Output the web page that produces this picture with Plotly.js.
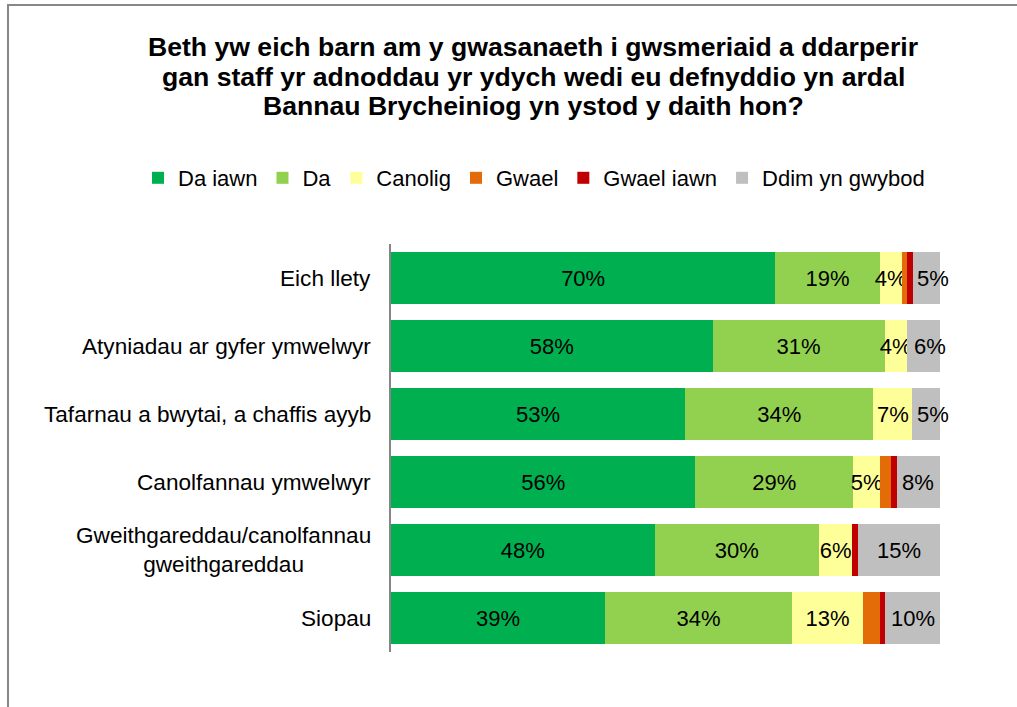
<!DOCTYPE html>
<html>
<head>
<meta charset="utf-8">
<script src="https://cdn.plot.ly/plotly-3.0.1.min.js"></script>
<style>
html,body{margin:0;padding:0;background:#fff;}
#wrap{position:relative;width:1017px;height:707px;overflow:hidden;}
#chart{width:1017px;height:707px;}
#frame{position:absolute;left:7px;top:4px;width:1030px;height:730px;border:2px solid #878787;pointer-events:none;box-sizing:border-box;}
</style>
</head>
<body>
<div id="wrap"><div id="chart"></div><div id="frame"></div></div>
<script>
const categories = [
  "Eich llety",
  "Atyniadau ar gyfer ymwelwyr",
  "Tafarnau a bwytai, a chaffis ayyb",
  "Canolfannau ymwelwyr",
  "Gweithgareddau/canolfannau<br>gweithgareddau",
  "Siopau"
];
const seriesNames = ["Da iawn", "Da", "Canolig", "Gwael", "Gwael iawn", "Ddim yn gwybod"];
const daIawn     = [70, 58, 53, 56, 48, 39];
const da         = [19, 31, 34, 29, 30, 34];
const canolig    = [4, 4, 7, 5, 6, 13];
const gwael      = [1, 0, 0, 2, 0, 3];
const gwaelIawn  = [1, 0, 0, 1, 1, 1];
const ddim       = [5, 6, 5, 8, 15, 10];
const titleLines = [
  "Beth yw eich barn am y gwasanaeth i gwsmeriaid a ddarperir",
  "gan staff yr adnoddau yr ydych wedi eu defnyddio yn ardal",
  "Bannau Brycheiniog yn ystod y daith hon?"
];

const colors = ["#00B050", "#92D050", "#FFFF99", "#E36C09", "#C00000", "#BFBFBF"];
const allSeries = [daIawn, da, canolig, gwael, gwaelIawn, ddim];
const FONT = "Liberation Sans, Arial, sans-serif";
const LAST = allSeries.length - 1;

const traces = allSeries.map((vals, i) => ({
  type: "bar",
  orientation: "h",
  name: seriesNames[i],
  y: categories,
  x: vals,
  marker: {color: colors[i], line: {width: 0}},
  text: vals.map(v => (i !== LAST && v >= 4) ? v + "%" : ""),
  textposition: "inside",
  insidetextanchor: "middle",
  textangle: 0,
  constraintext: "none",
  cliponaxis: false,
  textfont: {family: FONT, size: 22, color: "#000"},
  hoverinfo: "x+name"
}));

const W = 1017, H = 707;
const L = 391, R = 940, T = 244, B = 652;
const px2paperX = p => (p - L) / (R - L);
const px2paperY = p => 1 + (T - p) / (B - T);

const annotations = [];
const titleY = [47, 77, 106];
titleLines.forEach((t, i) => {
  annotations.push({
    text: "<b>" + t + "</b>", xref: "paper", yref: "paper",
    x: px2paperX(533), y: px2paperY(titleY[i]),
    xanchor: "center", yanchor: "middle", showarrow: false,
    font: {family: FONT, size: 26.6, color: "#000"}
  });
});
categories.forEach(c => {
  annotations.push({
    text: c, xref: "paper", yref: "y", x: 0, y: c,
    xanchor: "right", yanchor: "middle", xshift: -18, align: "center",
    showarrow: false,
    font: {family: FONT, size: 22.6, color: "#000"}
  });
});
// labels of the last segment, placed at the segment centre (normalised to 100%),
// nudged right when the segment is narrow so they clear the neighbouring label
categories.forEach((c, r) => {
  const total = allSeries.reduce((s, arr) => s + arr[r], 0);
  const start = allSeries.slice(0, LAST).reduce((s, arr) => s + arr[r], 0);
  const v = ddim[r];
  annotations.push({
    text: v + "%", xref: "x", yref: "y",
    x: (start + v / 2) / total * 100, y: c,
    xanchor: "center", yanchor: "middle", showarrow: false,
    xshift: v <= 6 ? 7 : 0,
    font: {family: FONT, size: 22, color: "#000"}
  });
});

const layout = {
  width: W, height: H,
  margin: {l: L, r: W - R, t: T, b: H - B, pad: 0},
  paper_bgcolor: "#fff", plot_bgcolor: "#fff",
  barmode: "stack",
  barnorm: "percent",
  bargap: 0.235,
  showlegend: true,
  legend: {
    orientation: "h", xref: "paper", yref: "paper",
    x: px2paperX(138), y: px2paperY(178), xanchor: "left", yanchor: "middle",
    font: {family: FONT, size: 22, color: "#000"},
    traceorder: "normal", itemclick: false
  },
  xaxis: {range: [0, 100], visible: false, fixedrange: true},
  yaxis: {
    type: "category", autorange: "reversed", showticklabels: false,
    showline: true, linecolor: "#868686", linewidth: 2, showgrid: false,
    zeroline: false, ticks: "", fixedrange: true
  },
  uniformtext: {mode: "show", minsize: 22},
  annotations: annotations
};

Plotly.newPlot("chart", traces, layout, {displayModeBar: false, staticPlot: true});
</script>
</body>
</html>
